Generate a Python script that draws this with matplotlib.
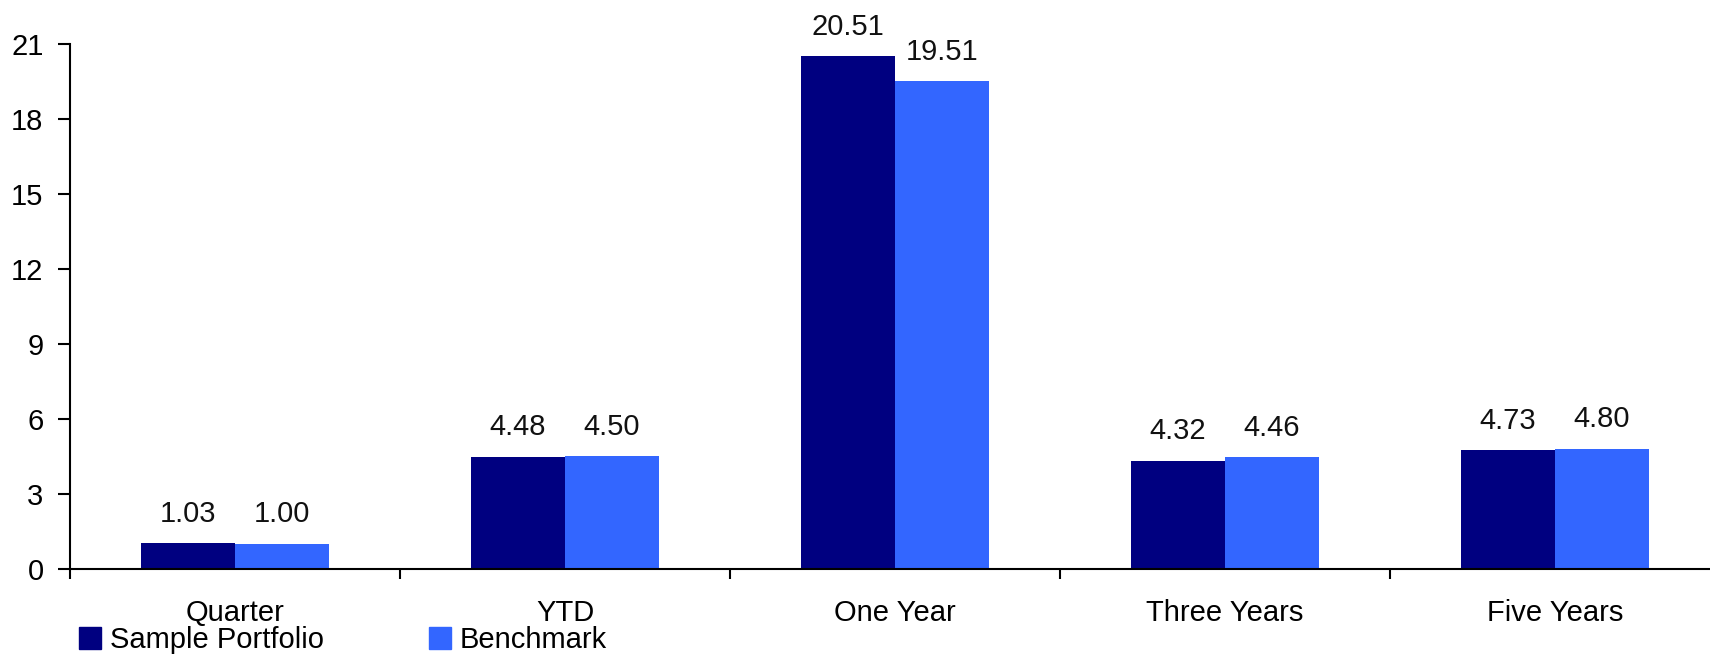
import matplotlib
matplotlib.use("Agg")
import matplotlib.pyplot as plt
import numpy as np
from matplotlib.patches import Patch

categories = ["Quarter", "YTD", "One Year", "Three Years", "Five Years"]
portfolio = [1.03, 4.48, 20.51, 4.32, 4.73]
benchmark = [1.00, 4.50, 19.51, 4.46, 4.80]
series_names = ["Sample Portfolio", "Benchmark"]
yticks = [0, 3, 6, 9, 12, 15, 18, 21]

dark = "#000080"
light = "#3366FF"

plt.rcParams["font.family"] = ["Liberation Sans", "DejaVu Sans"]
plt.rcParams["font.size"] = 21

fig = plt.figure(figsize=(17.1, 6.54), dpi=100)
# axis runs a little past the right edge, like the original
ax = fig.add_axes([0.04094, 0.1307, 0.96491, 0.802])

x = np.arange(len(categories))
w = 0.285
b1 = ax.bar(x - w / 2, portfolio, w, color=dark)
b2 = ax.bar(x + w / 2, benchmark, w, color=light)

for bars, vals in ((b1, portfolio), (b2, benchmark)):
    for rect, v in zip(bars, vals):
        ax.annotate(f"{v:.2f}", (rect.get_x() + rect.get_width() / 2, v),
                    xytext=(0, 11), textcoords="offset points",
                    ha="center", va="bottom", fontsize=21, color="#111111",
                    annotation_clip=False)

ax.set_xlim(-0.5, len(categories) - 0.5)
ax.set_ylim(0, 21)
ax.set_yticks(yticks)
ax.set_xticks(x)
ax.set_xticklabels(categories)
ax.set_xticks(np.arange(len(categories)) - 0.5, minor=True)

for s in ("top", "right"):
    ax.spines[s].set_visible(False)
for s in ("left", "bottom"):
    ax.spines[s].set_linewidth(1.5)

ax.tick_params(axis="y", length=9, width=1.5, pad=10)
ax.tick_params(axis="x", which="major", length=0, pad=22)
ax.tick_params(axis="x", which="minor", length=7, width=1.5)

handles = [Patch(color=dark), Patch(color=light)]
fig.legend(handles, series_names, loc="lower left", bbox_to_anchor=(0.0462, 0.0),
           ncol=2, frameon=False, fontsize=21, handlelength=0.75, handleheight=0.75,
           handletextpad=0.3, columnspacing=3.6, borderaxespad=0, borderpad=0)

fig.savefig("out.png", dpi=100)
